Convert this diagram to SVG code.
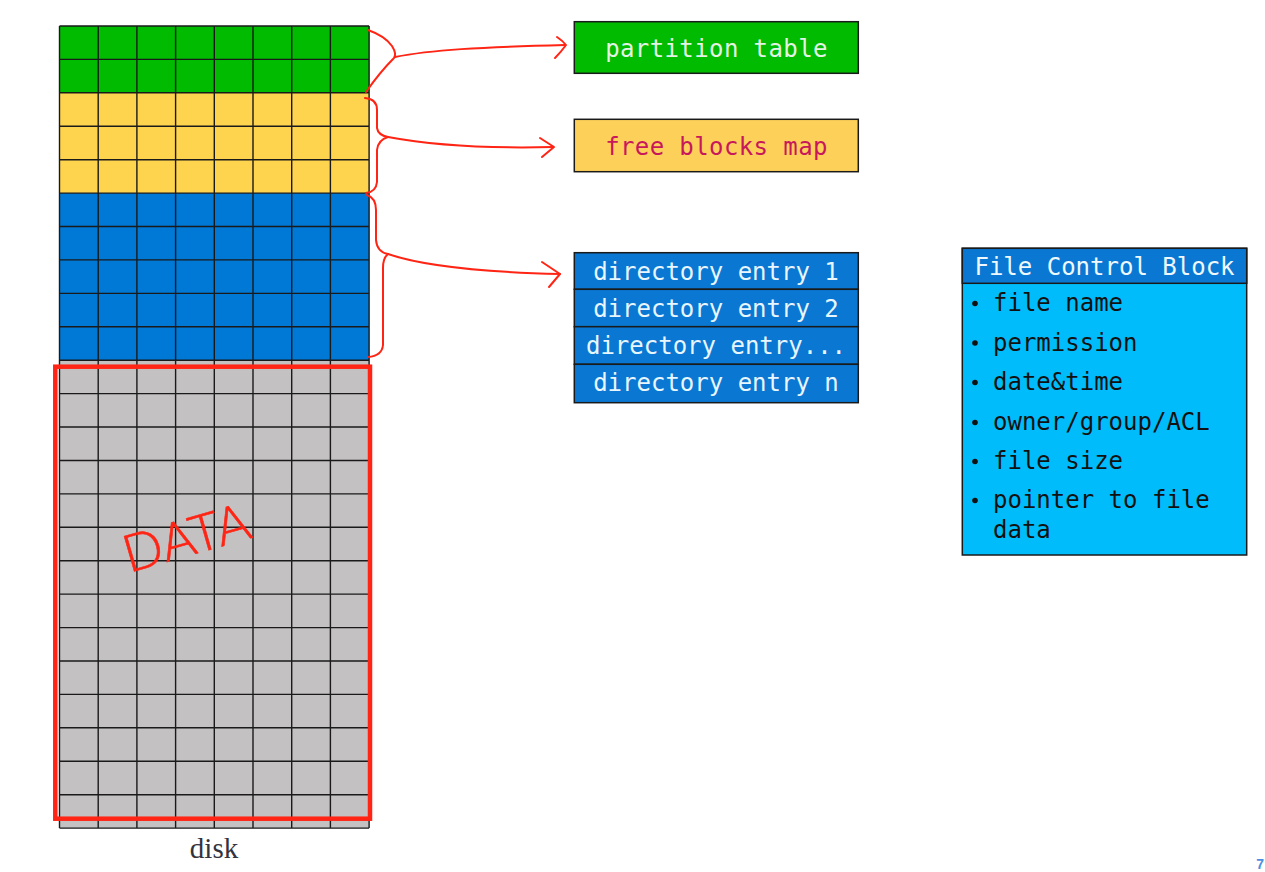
<svg xmlns="http://www.w3.org/2000/svg" width="1265" height="872" viewBox="0 0 1265 872">
<style>
.mono{font-family:"DejaVu Sans Mono","Liberation Mono",monospace;font-size:24px}
.box{stroke:#1a1a1a;stroke-width:1.5}
.red{fill:none;stroke:#ff2414;stroke-width:2;stroke-linecap:round;stroke-linejoin:round}
.grid{fill:none;stroke:#1a1a1a;stroke-width:1.4}
</style>
<rect width="1265" height="872" fill="#ffffff"/>
<g id="disk">
<rect x="59.5" y="26" width="309.6" height="66.8" fill="#00bb00"/>
<rect x="59.5" y="92.8" width="309.6" height="100.3" fill="#fed44f"/>
<rect x="59.5" y="193.1" width="309.6" height="167.1" fill="#0079d6"/>
<rect x="59.5" y="360.2" width="309.6" height="467.9" fill="#c3c1c1"/>
<path class="grid" d="M59.5,26H369.1M59.5,59.4H369.1M59.5,92.8H369.1M59.5,126.3H369.1M59.5,159.7H369.1M59.5,193.1H369.1M59.5,226.5H369.1M59.5,259.9H369.1M59.5,293.4H369.1M59.5,326.8H369.1M59.5,360.2H369.1M59.5,393.6H369.1M59.5,427H369.1M59.5,460.5H369.1M59.5,493.9H369.1M59.5,527.3H369.1M59.5,560.7H369.1M59.5,594.1H369.1M59.5,627.6H369.1M59.5,661H369.1M59.5,694.4H369.1M59.5,727.8H369.1M59.5,761.2H369.1M59.5,794.7H369.1M59.5,828.1H369.1M59.5,26V828.1M98.2,26V828.1M136.9,26V828.1M175.6,26V828.1M214.3,26V828.1M253,26V828.1M291.7,26V828.1M330.4,26V828.1M369.1,26V828.1"/>
<text x="214" y="858" text-anchor="middle" font-family="'Liberation Serif',serif" font-size="29" fill="#333340">disk</text>
</g>
<g id="data-region">
<rect x="55.3" y="366.7" width="314.7" height="452" fill="none" stroke="#ff2414" stroke-width="4.5"/>
<text transform="translate(129,573) rotate(-16)" font-family="Lato,'DejaVu Sans',sans-serif" font-weight="300" font-size="52" fill="#ff2414" stroke="#ff2414" stroke-width="0.6">DATA</text>
</g>
<g id="partition-table">
<rect class="box" x="574.3" y="21.7" width="284" height="51.6" fill="#00bb00"/>
<text class="mono" x="716.5" y="57" text-anchor="middle" font-size="25" letter-spacing="0.4" fill="#e4f4e4">partition table</text>
</g>
<g id="free-blocks-map">
<rect class="box" x="574.3" y="119.3" width="284" height="52.4" fill="#fdd05a"/>
<text class="mono" x="716.5" y="155" text-anchor="middle" font-size="25" letter-spacing="0.4" fill="#c8185c">free blocks map</text>
</g>
<g id="directory">
<rect class="box" x="574.3" y="252.7" width="284" height="36.6" fill="#0a78d2"/>
<rect class="box" x="574.3" y="289.3" width="284" height="37.4" fill="#0a78d2"/>
<rect class="box" x="574.3" y="326.7" width="284" height="37.6" fill="#0a78d2"/>
<rect class="box" x="574.3" y="364.3" width="284" height="38.4" fill="#0a78d2"/>
<g class="mono" fill="#e8f6ff" text-anchor="middle">
<text x="716" y="280">directory entry 1</text>
<text x="716" y="317">directory entry 2</text>
<text x="716" y="354">directory entry...</text>
<text x="716" y="391">directory entry n</text>
</g>
</g>
<g id="file-control-block">
<rect class="box" x="962.3" y="248.3" width="284.4" height="306.7" fill="#00bcfa"/>
<rect class="box" x="962.3" y="248.3" width="284.4" height="35" fill="#0a78d2"/>
<text class="mono" x="1104.5" y="275" text-anchor="middle" fill="#eef8ff">File Control Block</text>
<g fill="#111111">
<circle cx="975" cy="303.5" r="2.8"/>
<circle cx="975" cy="343" r="2.8"/>
<circle cx="975" cy="382.5" r="2.8"/>
<circle cx="975" cy="422.5" r="2.8"/>
<circle cx="975" cy="461.5" r="2.8"/>
<circle cx="975" cy="500.5" r="2.8"/>
</g>
<g class="mono" fill="#111111">
<text x="993" y="311">file name</text>
<text x="993" y="351">permission</text>
<text x="993" y="390">date&amp;time</text>
<text x="993" y="430">owner/group/ACL</text>
<text x="993" y="469">file size</text>
<text x="993" y="508">pointer to file</text>
<text x="993" y="538">data</text>
</g>
</g>
<g id="connectors">
<path class="red" d="M368,30 Q385,36 392,46 Q397,54 394,58 Q380,72 366,92"/>
<path class="red" d="M395,57 C430,50 480,47 565,45"/>
<path class="red" d="M557,37 Q563,41 566,45 Q561,52 555,58"/>
<path class="red" d="M365,98 Q377,99 377,110 L377,128 Q378,135 388,137 Q378,140 377,150 L377,182 Q376,192 366,193"/>
<path class="red" d="M388,137 C420,143 470,149 553,147"/>
<path class="red" d="M540,138 L554,147 L542,157"/>
<path class="red" d="M367,195 Q376,198 376,210 L376,240 Q377,252 388,254 Q383,258 383,268 L383,345 Q382,356 368,357"/>
<path class="red" d="M388,254 C420,265 480,272 560,274"/>
<path class="red" d="M542,262 L560,274 L549,287"/>
</g>
<text x="1264" y="869" text-anchor="end" font-family="'Liberation Sans',sans-serif" font-weight="bold" font-size="14" fill="#4a8fe0">7</text>
</svg>
